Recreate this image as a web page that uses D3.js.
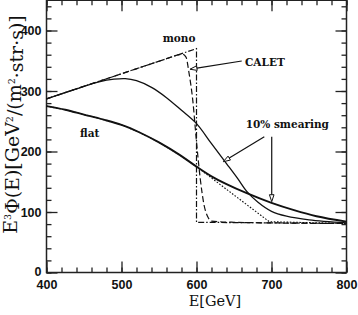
<!doctype html>
<html>
<head>
    <script src="https://d3js.org/d3.v7.min.js"></script>
    <style>
        body { margin: 0; background: #fff; }
    </style>
</head>
<body>
    <script>
        var width = 358;
        var height = 315;

        // tick values
        var xTicks = [400, 500, 600, 700, 800];
        var yTicks = [0, 100, 200, 300, 400];

        // mono-energetic line (dash-dot)
        var monoE = [400, 600, 600, 800];
        var monoV = [287, 370, 83, 81];

        // CALET response (dashed)
        var caletE = [400, 500, 560, 575, 581, 586, 590, 595, 600, 605, 610, 615, 620, 650, 700, 800];
        var caletV = [287, 328.5, 353.4, 359.6, 361, 356, 330, 285, 216, 155, 112, 92, 85, 83, 82, 81];

        // mono with 10% smearing (thin solid)
        var smearE = [400, 440, 470, 490, 505, 520, 540, 560, 580, 600, 620, 640, 655, 667, 682, 700, 720, 750, 800];
        var smearV = [287, 303.5, 315, 319.5, 320.5, 317, 306, 289, 268, 246, 213, 180, 155, 134, 116, 101, 93, 87, 82];

        // flat spectrum with smearing (thick solid)
        var flatE = [400, 425, 450, 475, 500, 525, 550, 578, 600, 620, 640, 667, 700, 730, 760, 800];
        var flatV = [275, 269, 261, 253, 244, 231, 215, 194, 175, 159, 146, 131, 115, 103, 93, 84];

        // flat spectrum, sharp (dotted)
        var dotE = [400, 425, 450, 475, 500, 525, 550, 578, 600, 697, 800];
        var dotV = [275, 269, 261, 253, 244, 231, 215, 194, 175, 84, 81];

        var x = d3.scaleLinear().domain([400, 800]).range([46.5, 346.5]);
        var y = d3.scaleLinear().domain([0, 450]).range([272.5, 0.25]);

        var svg = d3.select("body")
                    .append("svg")
                    .attr("width", width)
                    .attr("height", height);

        // axes: major + minor ticks on all four sides, pointing inward
        function axis(gen, values, size, label) {
            return gen.tickValues(values).tickSize(size).tickSizeOuter(0)
                      .tickFormat(label ? d3.format("d") : "");
        }
        var xMinor = d3.range(400, 801, 20);
        var yMinor = d3.range(0, 451, 20);

        var axes = svg.append("g");
        axes.append("g").attr("transform", "translate(0,272.5)")
            .call(axis(d3.axisBottom(x), xMinor, -5, false));
        axes.append("g").attr("transform", "translate(0,272.5)")
            .call(axis(d3.axisBottom(x), xTicks, -11, true).tickPadding(8));
        axes.append("g").attr("transform", "translate(0,0.25)")
            .call(axis(d3.axisTop(x), xMinor, -5, false));
        axes.append("g").attr("transform", "translate(0,0.25)")
            .call(axis(d3.axisTop(x), xTicks, -11, false));
        var yAx = axes.append("g").attr("transform", "translate(46.5,0)");
        axes.append("g").attr("transform", "translate(46.5,0)")
            .call(axis(d3.axisLeft(y), yMinor, -5, false));
        yAx.call(axis(d3.axisLeft(y), yTicks, -11, true).tickPadding(5));
        axes.append("g").attr("transform", "translate(346.5,0)")
            .call(axis(d3.axisRight(y), yMinor, -5, false));
        axes.append("g").attr("transform", "translate(346.5,0)")
            .call(axis(d3.axisRight(y), yTicks, -11, false));

        axes.selectAll(".domain").remove();
        axes.selectAll(".tick line").attr("stroke", "#222").attr("stroke-width", 1.3);
        axes.selectAll(".tick text")
            .attr("fill", "#111")
            .style("font-family", "Liberation Sans, Arial, sans-serif")
            .style("font-weight", "bold")
            .style("font-size", "12.5px");
        // keep the "0" clear of the "400" below it
        yAx.selectAll(".tick text").filter(function(d){ return d === 0; })
           .attr("dy", "0.2em");

        svg.append("rect")
           .attr("x", x(400)).attr("y", y(450))
           .attr("width", x(800) - x(400)).attr("height", y(0) - y(450))
           .attr("fill", "none").attr("stroke", "#222").attr("stroke-width", 1.5);

        // curves
        function pts(es, vs) { return es.map(function(e, i){ return [e, vs[i]]; }); }
        var smooth = d3.line().x(function(d){ return x(d[0]); })
                              .y(function(d){ return y(d[1]); })
                              .curve(d3.curveMonotoneX);
        var spline = d3.line().x(function(d){ return x(d[0]); })
                              .y(function(d){ return y(d[1]); })
                              .curve(d3.curveCatmullRom.alpha(0.5));
        var straight = d3.line().x(function(d){ return x(d[0]); })
                                .y(function(d){ return y(d[1]); });

        var g = svg.append("g").attr("fill", "none").attr("stroke", "#111");

        g.append("path").attr("d", straight(pts(dotE, dotV)))
         .attr("stroke-width", 1.1).attr("stroke-dasharray", "1.6,1.6");
        g.append("path").attr("d", straight(pts(monoE, monoV)))
         .attr("stroke-width", 1.2).attr("stroke-dasharray", "6,2,1.5,2");
        g.append("path").attr("d", smooth(pts(caletE, caletV)))
         .attr("stroke-width", 1.2).attr("stroke-dasharray", "6,3");
        g.append("path").attr("d", spline(pts(smearE, smearV)))
         .attr("stroke-width", 1.3);
        g.append("path").attr("d", spline(pts(flatE, flatV)))
         .attr("stroke-width", 1.9);

        // annotations (in data units)
        var labels = [
            {t: "mono", e: 555, v: 381.5},
            {t: "CALET", e: 664.7, v: 341.8},
            {t: "10% smearing", e: 665.6, v: 239.3},
            {t: "flat", e: 444.7, v: 223.5}
        ];
        svg.selectAll(".lab").data(labels).enter().append("text")
           .attr("class", "lab")
           .attr("x", function(d){ return x(d.e); })
           .attr("y", function(d){ return y(d.v); })
           .style("font-family", "DejaVu Serif, serif")
           .style("font-weight", "bold")
           .style("font-size", "10.5px")
           .attr("fill", "#111")
           .text(function(d){ return d.t; });

        var arrows = [
            {e0: 660.3, v0: 349.6, e1: 591.3, v1: 336},
            {e0: 690.4, v0: 224.5, e1: 635.7, v1: 183.1},
            {e0: 700.3, v0: 224.5, e1: 700.3, v1: 117}
        ];
        arrows.forEach(function(a) {
            var x0 = x(a.e0), y0 = y(a.v0), x1 = x(a.e1), y1 = y(a.v1);
            var dx = x1 - x0, dy = y1 - y0, L = Math.sqrt(dx*dx + dy*dy);
            var ux = dx / L, uy = dy / L, hl = 7, hw = 2.3;
            var bx = x1 - ux*hl, by = y1 - uy*hl;
            svg.append("line").attr("x1", x0).attr("y1", y0).attr("x2", bx).attr("y2", by)
               .attr("stroke", "#111").attr("stroke-width", 1.2);
            svg.append("path")
               .attr("d", "M" + x1 + "," + y1 +
                          "L" + (bx - uy*hw) + "," + (by + ux*hw) +
                          "L" + (bx + uy*hw) + "," + (by - ux*hw) + "Z")
               .attr("fill", "#fff").attr("stroke", "#111").attr("stroke-width", 1);
        });

        // axis titles
        svg.append("text")
           .attr("x", 215).attr("y", 306)
           .attr("text-anchor", "middle")
           .style("font-family", "DejaVu Serif, serif")
           .style("font-size", "14.5px")
           .attr("fill", "#111")
           .text("E[GeV]");

        var yt = svg.append("text")
           .attr("transform", "translate(16.5,124.5) rotate(-90)")
           .attr("text-anchor", "middle")
           .style("font-family", "DejaVu Serif, serif")
           .style("font-size", "14px")
           .attr("fill", "#111");
        var parts = [["E", 0], ["3", 1], ["Φ(E)[GeV", 0], ["2", 1], ["/(m", 0], ["2", 1], ["·str·s)]", 0]];
        parts.forEach(function(p, i) {
            var ts = yt.append("tspan").text(p[0]);
            if (p[1]) ts.attr("dy", "-0.6em").style("font-size", "9.5px");
            else if (i > 0 && parts[i - 1][1]) ts.attr("dy", "0.41em");
        });

        var len = yt.node().getComputedTextLength();
        yt.style("font-size", (14 * 225 / len) + "px");
    </script>
</body>
</html>
